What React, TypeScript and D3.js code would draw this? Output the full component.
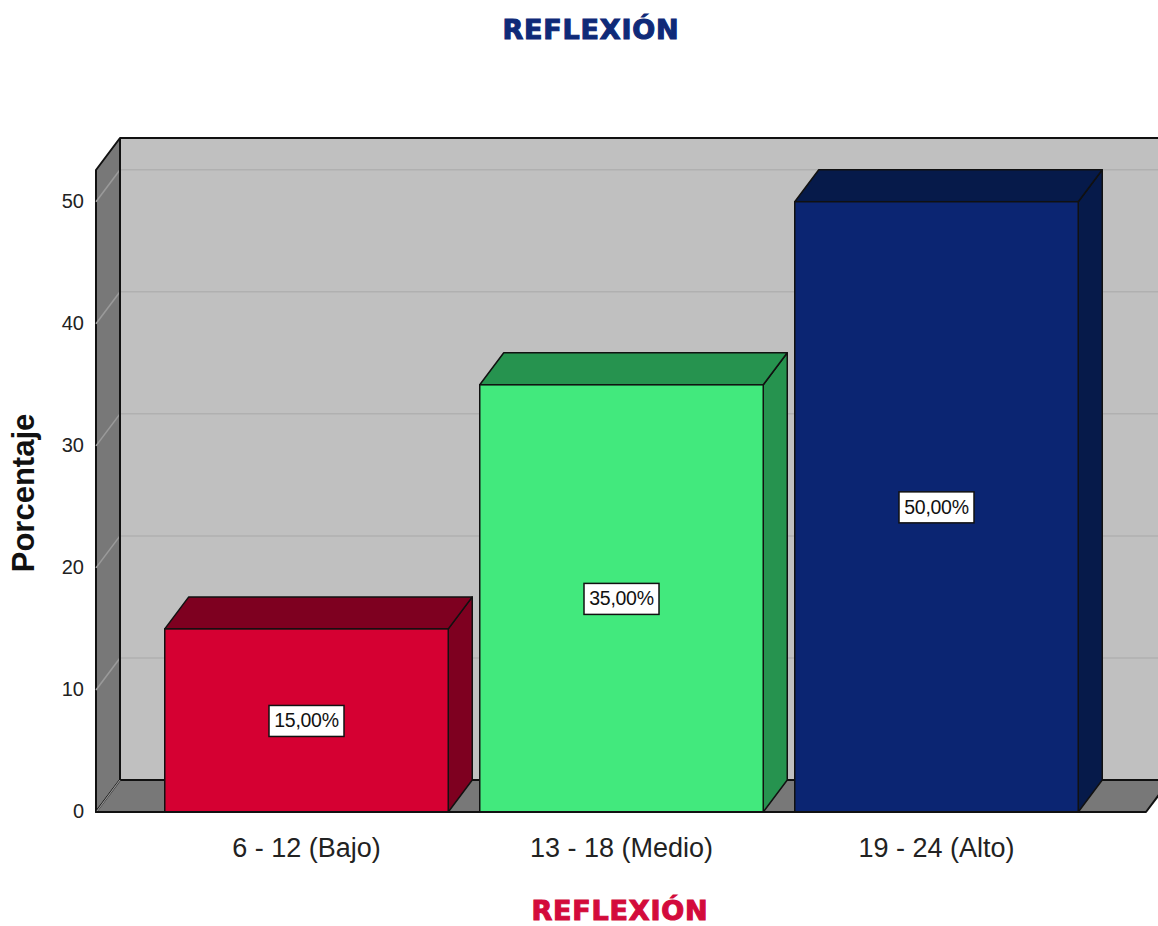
import React from "react";
import * as d3 from "d3";

const categories = ["6 - 12 (Bajo)", "13 - 18 (Medio)", "19 - 24 (Alto)"];
const values = [15, 35, 50];
const valueLabels = ["15,00%", "35,00%", "50,00%"];
const yTicks = [0, 10, 20, 30, 40, 50];
const frontColors = ["#D50032", "#42E97D", "#0B2572"];
const darkColors = ["#7E0020", "#26934F", "#061A4A"];

const W = 1158;
const H = 926;
const DX = 24;
const DY = -32;

export default function App() {
  const x = d3
    .scaleBand<string>()
    .domain(categories)
    .range([149, 1094])
    .paddingInner(0.1)
    .paddingOuter(0.05);
  const y = d3.scaleLinear().domain([0, 52.6]).range([812, 170]);

  const left = 96;
  const right = 1146;
  const y0 = y(0);
  const yTop = y(52.6);

  const pts = (p: [number, number][]) => p.map((d) => d.join(",")).join(" ");

  return (
    <svg
      width={W}
      height={H}
      style={{ position: "absolute", left: 0, top: 0, display: "block", background: "#fff" }}
      fontFamily="'Liberation Sans', Arial, sans-serif"
    >
      {/* back wall */}
      <rect x={left + DX} y={yTop + DY} width={right - left + 20} height={y0 - yTop} fill="#C0C0C0" />
      {yTicks.slice(1).map((t) => (
        <line key={"bg" + t} x1={left + DX} x2={W + 20} y1={y(t) + DY} y2={y(t) + DY} stroke="#B0B0B0" strokeWidth={1.5} />
      ))}
      <line x1={left + DX} x2={W + 20} y1={yTop + DY} y2={yTop + DY} stroke="#111" strokeWidth={2} />
      {/* left wall */}
      <polygon
        points={pts([
          [left, yTop],
          [left + DX, yTop + DY],
          [left + DX, y0 + DY],
          [left, y0],
        ])}
        fill="#787878"
        stroke="#111"
        strokeWidth={2}
        strokeLinejoin="round"
      />
      {yTicks.slice(1).map((t) => (
        <line key={"lg" + t} x1={left} x2={left + DX} y1={y(t)} y2={y(t) + DY} stroke="#9A9A9A" strokeWidth={1.5} />
      ))}
      {/* floor */}
      <polygon
        points={pts([
          [left, y0],
          [left + DX, y0 + DY],
          [right + DX, y0 + DY],
          [right, y0],
        ])}
        fill="#787878"
        stroke="#111"
        strokeWidth={2}
        strokeLinejoin="round"
      />
      <line x1={left + 1} x2={left + DX} y1={y0 - 1} y2={y0 + DY} stroke="#999" strokeWidth={1.2} />
      <line x1={left + DX} x2={left + DX} y1={yTop + DY} y2={y0 + DY} stroke="#111" strokeWidth={2} />

      {/* bars */}
      {categories.map((c, i) => {
        const x0 = x(c)!;
        const x1 = x0 + x.bandwidth();
        const yt = y(values[i]);
        return (
          <g key={c}>
            <polygon
              points={pts([
                [x1, yt],
                [x1 + DX, yt + DY],
                [x1 + DX, y0 + DY],
                [x1, y0],
              ])}
              fill={darkColors[i]}
              stroke="#111"
              strokeWidth={1.5}
              strokeLinejoin="round"
            />
            <polygon
              points={pts([
                [x0, yt],
                [x0 + DX, yt + DY],
                [x1 + DX, yt + DY],
                [x1, yt],
              ])}
              fill={darkColors[i]}
              stroke="#111"
              strokeWidth={1.5}
              strokeLinejoin="round"
            />
            <rect x={x0} y={yt} width={x1 - x0} height={y0 - yt} fill={frontColors[i]} stroke="#111" strokeWidth={1.5} />
          </g>
        );
      })}
      <line x1={left} x2={right} y1={y0} y2={y0} stroke="#111" strokeWidth={2} />

      {/* value labels */}
      {categories.map((c, i) => {
        const cx = x(c)! + x.bandwidth() / 2;
        const cy = (y(values[i]) + y0) / 2;
        return (
          <g key={"lab" + c}>
            <rect x={cx - 37.5} y={cy - 15} width={75} height={31} fill="#fff" stroke="#111" strokeWidth={1.5} />
            <text x={cx} y={cy + 1.5} textAnchor="middle" dominantBaseline="middle" fontSize={19.5} fill="#111" letterSpacing={-0.3}>
              {valueLabels[i]}
            </text>
          </g>
        );
      })}

      {/* y tick labels */}
      {yTicks.map((t) => (
        <text key={"yt" + t} x={84} y={y(t) + 1} textAnchor="end" dominantBaseline="middle" fontSize={20} fill="#222">
          {t}
        </text>
      ))}

      {/* x tick labels */}
      {categories.map((c) => (
        <text key={"xt" + c} x={x(c)! + x.bandwidth() / 2} y={857} textAnchor="middle" fontSize={27} fill="#222">
          {c}
        </text>
      ))}

      {/* y axis title */}
      <text transform={`translate(34,${493}) rotate(-90)`} textAnchor="middle" fontSize={31} fontWeight="bold" fill="#111">
        Porcentaje
      </text>

      {/* titles */}
      <text
        x={591}
        y={39}
        textAnchor="middle"
        fontSize={27}
        fontWeight="bold"
        fontFamily="'DejaVu Sans', sans-serif"
        fill="#0F2A78"
        stroke="#0F2A78"
        strokeWidth={1.1}
        letterSpacing={0.8}
      >
        REFLEXIÓN
      </text>
      <text
        x={620}
        y={920}
        textAnchor="middle"
        fontSize={27}
        fontWeight="bold"
        fontFamily="'DejaVu Sans', sans-serif"
        fill="#D30B3B"
        stroke="#D30B3B"
        strokeWidth={1.1}
        letterSpacing={0.8}
      >
        REFLEXIÓN
      </text>
    </svg>
  );
}
